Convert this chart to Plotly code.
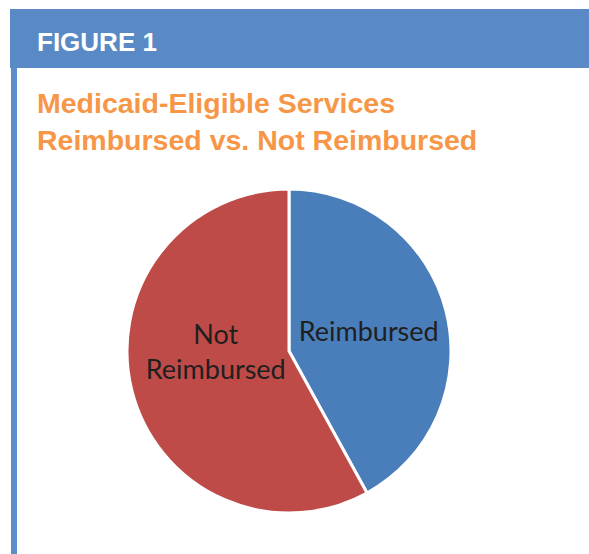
import plotly.graph_objects as go

labels = ["Reimbursed", " <br>Not<br>Reimbursed<br> "]
values = [42, 58]
colors = ["#4A7EBB", "#BE4B48"]

W, H = 589, 554

def px(x):
    return x / W

def py(y):
    return 1 - y / H

fig = go.Figure()
fig.add_trace(go.Pie(
    labels=labels,
    values=values,
    sort=False,
    direction="clockwise",
    rotation=0,
    marker=dict(colors=colors, line=dict(color="white", width=3)),
    textinfo="label",
    textposition="inside",
    insidetextorientation="horizontal",
    textfont=dict(family="Lato, Open Sans, sans-serif", size=27, color="#1f1f1f"),
    hoverinfo="label+percent",
    domain=dict(x=[px(127), px(451)], y=[py(513), py(189)]),
    showlegend=False,
))

shapes = [
    dict(type="rect", xref="paper", yref="paper", x0=px(10), x1=1.0, y0=py(68), y1=py(9),
         fillcolor="#5A8AC6", line=dict(width=0), layer="below"),
    dict(type="rect", xref="paper", yref="paper", x0=px(11), x1=px(17), y0=0, y1=py(68),
         fillcolor="#5B8DCB", line=dict(width=0), layer="below"),
]

annotations = [
    dict(text="<b>FIGURE 1</b>", xref="paper", yref="paper", x=px(35), y=py(42),
         xanchor="left", yanchor="middle", showarrow=False,
         font=dict(family="Liberation Sans, Arial, sans-serif", size=26, color="white")),
    dict(text="<b>Medicaid-Eligible Services<br>Reimbursed vs. Not Reimbursed</b>",
         xref="paper", yref="paper", x=px(35), y=py(85),
         xanchor="left", yanchor="top", align="left", showarrow=False,
         font=dict(family="Liberation Sans, Arial, sans-serif", size=28.5, color="#F79646")),
]

fig.update_layout(
    width=W, height=H,
    margin=dict(l=0, r=0, t=0, b=0),
    paper_bgcolor="white",
    plot_bgcolor="white",
    shapes=shapes,
    annotations=annotations,
    uniformtext=dict(minsize=27, mode="show"),
)

fig.write_html(
    "out.html",
    config={"displayModeBar": False},
    post_script="document.body.style.margin='0';document.body.style.overflow='hidden';",
)
